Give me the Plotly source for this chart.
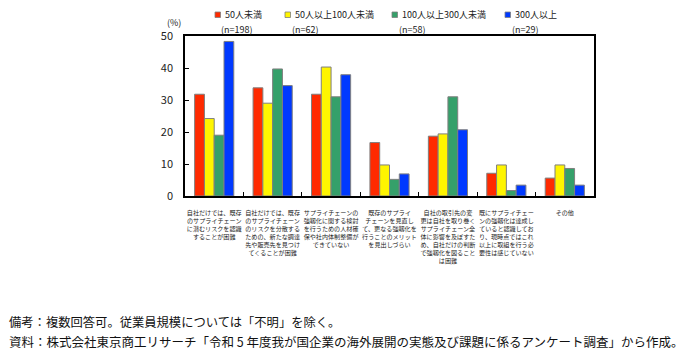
import plotly.graph_objects as go

categories = [
    "自社だけでは、既存<br>のサプライチェーン<br>に潜むリスクを認識<br>することが困難",
    "自社だけでは、既存<br>のサプライチェーン<br>のリスクを分散する<br>ための、新たな調達<br>先や販売先を見つけ<br>てくることが困難",
    "サプライチェーンの<br>強靱化に関する検討<br>を行うための人材確<br>保や社内体制整備が<br>できていない",
    "既存のサプライ<br>チェーンを見直し<br>て、更なる強靱化を<br>行うことのメリット<br>を見出しづらい",
    "自社の取引先の変<br>更は自社を取り巻く<br>サプライチェーン全<br>体に影響を及ぼすた<br>め、自社だけの判断<br>で強靱化を図ること<br>は困難",
    "既にサプライチェー<br>ンの強靱化は達成し<br>ていると認識してお<br>り、現時点ではこれ<br>以上に取組を行う必<br>要性は感じていない",
    "その他",
]
series_names = ["50人未満", "50人以上100人未満", "100人以上300人未満", "300人以上"]
series_n = ["(n=198)", "(n=62)", "(n=58)", "(n=29)"]
series_colors = ["#FF2A00", "#FFF500", "#35A06A", "#0039FF"]

v_lt50 = [31.8, 33.8, 31.8, 16.7, 18.7, 7.1, 5.6]
v_50_100 = [24.2, 29.0, 40.3, 9.7, 19.4, 9.7, 9.7]
v_100_300 = [19.0, 39.7, 31.0, 5.2, 31.0, 1.7, 8.6]
v_300 = [48.3, 34.5, 37.9, 6.9, 20.7, 3.4, 3.4]
series_values = [v_lt50, v_50_100, v_100_300, v_300]

y_ticks = [0, 10, 20, 30, 40, 50]

W, H = 691, 356
ML, MR, MT, MB = 185, 97, 36, 160
PW, PH = W - ML - MR, H - MT - MB


def px(x):
    return (x - ML) / PW


def py(y):
    return (H - MB - y) / PH


FONT = "Noto Sans CJK JP"

fig = go.Figure()
for name, vals, col in zip(series_names, series_values, series_colors):
    fig.add_trace(go.Bar(
        x=categories, y=vals, name=name, showlegend=False,
        marker=dict(color=col, line=dict(color="#7F7F7F", width=1)),
    ))

# manual legend
legend_sq_x = [215, 285, 392, 505]
n_x = [237, 305, 412, 525]
shapes = []
annotations = []
for i, (name, col) in enumerate(zip(series_names, series_colors)):
    x0 = legend_sq_x[i]
    shapes.append(dict(type="rect", xref="paper", yref="paper",
                       x0=px(x0), x1=px(x0 + 5.5), y0=py(17.5), y1=py(12),
                       fillcolor=col, line=dict(color="#7F7F7F", width=0.8)))
    annotations.append(dict(text=name, xref="paper", yref="paper",
                            x=px(x0 + 7.5), y=py(14.5), xanchor="left", yanchor="middle",
                            showarrow=False, font=dict(size=9, color="#222", family=FONT)))
    annotations.append(dict(text=series_n[i], xref="paper", yref="paper",
                            x=px(n_x[i]), y=py(29), xanchor="center", yanchor="middle",
                            showarrow=False, font=dict(size=9, color="#222", family=FONT)))

annotations.append(dict(text="(%)", xref="paper", yref="paper", x=px(183), y=py(22.5),
                        xanchor="right", yanchor="middle", showarrow=False,
                        font=dict(size=9, color="#222", family=FONT)))
annotations.append(dict(text="備考：複数回答可。従業員規模については「不明」を除く。",
                        xref="paper", yref="paper", x=px(7), y=py(322),
                        xanchor="left", yanchor="middle", showarrow=False,
                        font=dict(size=12.3, color="#111", family=FONT)))
annotations.append(dict(text="資料：株式会社東京商工リサーチ「令和 5 年度我が国企業の海外展開の実態及び課題に係るアンケート調査」から作成。",
                        xref="paper", yref="paper", x=px(7), y=py(341),
                        xanchor="left", yanchor="middle", showarrow=False,
                        font=dict(size=12.5, color="#111", family=FONT)))

fig.update_layout(
    width=W, height=H,
    margin=dict(l=ML, r=MR, t=MT, b=MB, autoexpand=False),
    paper_bgcolor="white", plot_bgcolor="white",
    barmode="group", bargap=0.33, bargroupgap=0,
    font=dict(family=FONT, color="#222"),
    shapes=shapes, annotations=annotations,
    xaxis=dict(
        showline=True, linecolor="black", linewidth=1.5, mirror=True,
        ticks="inside", tickson="boundaries", ticklen=4, tickcolor="black",
        tickfont=dict(size=6.1, family=FONT, color="#222"), tickangle=0,
        showgrid=False, ticklabelstandoff=10, automargin=False,
    ),
    yaxis=dict(
        range=[0, 50], tickvals=y_ticks,
        showline=True, linecolor="black", linewidth=1.5, mirror=True,
        ticks="inside", ticklen=4, tickcolor="black",
        tickfont=dict(size=11, family=FONT, color="#222"),
        showgrid=False, zeroline=False, ticklabelstandoff=8, automargin=False,
    ),
)

fig.write_html(
    "out.html",
    config={"displayModeBar": False},
    post_script="document.body.style.margin='0';document.body.style.padding='0';document.body.style.overflow='hidden';",
)
